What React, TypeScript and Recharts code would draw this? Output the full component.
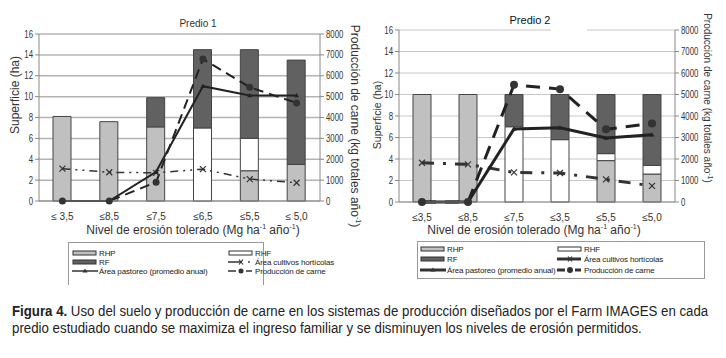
import React, { useLayoutEffect, useRef, useState } from "react"
import { ComposedChart, Bar, Line, XAxis, YAxis, CartesianGrid } from "recharts"

const categories1 = ["≤ 3,5", "≤8,5", "≤7,5", "≤6,5", "≤5,5", "≤ 5,0"]
const rhp1 = [8.1, 7.6, 7.1, 0, 2.9, 3.5]
const rhf1 = [0, 0, 0, 7.0, 3.1, 0]
const rf1 = [0, 0, 2.8, 7.5, 8.5, 10.0]
const horticolas1 = [3.1, 2.75, 2.7, 3.05, 2.1, 1.75]
const pastoreo1 = [0, 0, 2.8, 11.0, 10.1, 10.1]
const carne1 = [0, 0, 900, 6800, 5450, 4700]

const categories2 = ["≤3,5", "≤8,5", "≤7,5", "≤3,5", "≤5,5", "≤5,0"]
const rhp2 = [10, 10, 0, 0, 3.85, 2.6]
const rhf2 = [0, 0, 7.0, 5.8, 0.65, 0.8]
const rf2 = [0, 0, 3.0, 4.2, 5.5, 6.6]
const horticolas2 = [3.65, 3.5, 2.75, 2.7, 2.1, 1.5]
const pastoreo2 = [0, 0, 6.8, 6.9, 5.95, 6.25]
const carne2 = [0, 0, 5450, 5250, 3380, 3650]

const leftTicks = [0, 2, 4, 6, 8, 10, 12, 14, 16]
const rightTicks = [0, 1000, 2000, 3000, 4000, 5000, 6000, 7000, 8000]
const edgeTicks = [1, 2, 3, 4, 5]

const LIGHT = "#c0c0c0"
const DARK = "#616161"
const FONT = "'Liberation Sans', Arial, sans-serif"

function build(cats: string[], rhp: number[], rhf: number[], rf: number[], hort: number[], past: number[], carne: number[]) {
  return cats.map((c, i) => ({ label: c, rhp: rhp[i], rhf: rhf[i], rf: rf[i], hort: hort[i], past: past[i], carne: carne[i] }))
}

const data1 = build(categories1, rhp1, rhf1, rf1, horticolas1, pastoreo1, carne1)
const data2 = build(categories2, rhp2, rhf2, rf2, horticolas2, pastoreo2, carne2)

const XDot = (size: number, w: number) => (p: any) => {
  const { cx, cy, key } = p
  if (cx == null || cy == null) return null
  return (
    <path key={key} d={`M${cx - size},${cy - size}L${cx + size},${cy + size}M${cx - size},${cy + size}L${cx + size},${cy - size}`} stroke="#333" strokeWidth={w} fill="none" />
  )
}

const TriDot = (size: number) => (p: any) => {
  const { cx, cy, key } = p
  if (cx == null || cy == null) return null
  return <path key={key} d={`M${cx},${cy - size}L${cx + size},${cy + size * 0.7}L${cx - size},${cy + size * 0.7}Z`} fill="#222" />
}

const CircleDot = (r: number) => (p: any) => {
  const { cx, cy, key } = p
  if (cx == null || cy == null) return null
  return <circle key={key} cx={cx} cy={cy} r={r} fill="#333" />
}

// narrow digits, like the Arial Narrow ticks of the original
const CondTick = (props: any) => {
  const { x, y, payload, textAnchor } = props
  return (
    <text transform={`translate(${x},${y}) scale(0.78,1)`} textAnchor={textAnchor} dy="0.35em" fontSize={10} fill="#333" fontFamily={FONT}>
      {payload.value}
    </text>
  )
}

const tick = { fontSize: 10, fill: "#333", fontFamily: FONT }

interface PanelProps {
  data: any[]
  leftW: number
  rightW: number
  top: number
  xH: number
  grid: string
  thick: boolean
}

function Panel({ data, leftW, rightW, top, xH, grid, thick }: PanelProps) {
  const lw = thick ? 3 : 2
  return (
    <ComposedChart width={363} height={240} data={data} margin={{ top, right: 0, left: 0, bottom: 0 }}>
      <CartesianGrid vertical={false} stroke={grid} strokeWidth={thick ? 1 : 1.5} yAxisId="l" />
      <XAxis xAxisId="edge" type="number" domain={[0, 6]} ticks={edgeTicks} interval={0} height={0} tick={false} axisLine={false} tickLine={{ stroke: "#888" }} tickSize={4} />
      <XAxis dataKey="label" height={xH} tick={tick} tickLine={false} axisLine={{ stroke: "#888" }} tickMargin={6} interval={0} />
      <YAxis yAxisId="l" width={leftW} domain={[0, 16]} ticks={leftTicks} interval={0} tick={CondTick} axisLine={{ stroke: "#888" }} tickLine={{ stroke: "#888" }} tickSize={4} />
      <YAxis yAxisId="r" orientation="right" width={rightW} domain={[0, 8000]} ticks={rightTicks} interval={0} tick={CondTick} axisLine={{ stroke: "#888" }} tickLine={{ stroke: "#888" }} tickSize={4} />
      <Bar yAxisId="l" dataKey="rhp" stackId="a" fill={LIGHT} stroke="#444" barSize={18} isAnimationActive={false} />
      <Bar yAxisId="l" dataKey="rhf" stackId="a" fill="#fff" stroke="#444" barSize={18} isAnimationActive={false} />
      <Bar yAxisId="l" dataKey="rf" stackId="a" fill={DARK} stroke="#444" barSize={18} isAnimationActive={false} />
      <Line yAxisId="l" type="linear" dataKey="hort" stroke="#333" strokeWidth={thick ? 3 : 1.5} strokeDasharray={thick ? "12 9 3 9" : "8 5 2 5 2 5"} dot={XDot(3, 1.2)} isAnimationActive={false} />
      <Line yAxisId="l" type="linear" dataKey="past" stroke="#222" strokeWidth={lw} dot={TriDot(2.5)} isAnimationActive={false} />
      <Line yAxisId="r" type="linear" dataKey="carne" stroke="#222" strokeWidth={lw} strokeDasharray={thick ? "14 9" : "10 6"} dot={CircleDot(thick ? 4 : 3.5)} isAnimationActive={false} />
    </ComposedChart>
  )
}

function Swatch({ kind, thick }: { kind: string; thick: boolean }) {
  const w = thick ? 3 : 1.5
  return (
    <svg width={26} height={8} style={{ display: "block" }}>
      {kind === "rhp" && <rect x={1} y={2} width={23} height={4} fill={LIGHT} stroke="#333" />}
      {kind === "rhf" && <rect x={1} y={2} width={23} height={4} fill="#fff" stroke="#333" />}
      {kind === "rf" && <rect x={1} y={2} width={23} height={4} fill={DARK} stroke="#333" />}
      {kind === "hort" && (
        <g>
          <line x1={0} y1={4} x2={thick ? 24 : 14} y2={4} stroke="#333" strokeWidth={w} />
          <path d="M11,1.5L15,6.5M11,6.5L15,1.5" stroke="#333" strokeWidth={1.2} />
          {!thick && <circle cx={21} cy={4} r={0.9} fill="#333" />}
        </g>
      )}
      {kind === "past" && (
        <g>
          <line x1={0} y1={4} x2={26} y2={4} stroke="#333" strokeWidth={w} />
          <path d="M13,1.5L15.5,5.5L10.5,5.5Z" fill="#333" />
        </g>
      )}
      {kind === "carne" && (
        <g>
          <line x1={0} y1={4} x2={8} y2={4} stroke="#333" strokeWidth={w} />
          <circle cx={13} cy={4} r={thick ? 3 : 2.5} fill="#333" />
          <line x1={18} y1={4} x2={24} y2={4} stroke="#333" strokeWidth={w} />
        </g>
      )}
    </svg>
  )
}

function LegendItem({ x, y, kind, text, thick }: { x: number; y: number; kind: string; text: string; thick: boolean }) {
  return (
    <div style={{ position: "absolute", left: x, top: y, display: "flex", alignItems: "center", height: 10, fontSize: 8, letterSpacing: -0.15, whiteSpace: "nowrap", color: "#222" }}>
      <Swatch kind={kind} thick={thick} />
      <span style={{ marginLeft: 1 }}>{text}</span>
    </div>
  )
}

// squeeze a single line of text to a target width
function FitLine({ x, y, width, children }: { x: number; y: number; width: number; children: React.ReactNode }) {
  const ref = useRef<HTMLDivElement>(null)
  const [s, setS] = useState(1)
  useLayoutEffect(() => {
    if (ref.current) {
      const w = ref.current.scrollWidth
      if (w > 0) setS(width / w)
    }
  }, [width])
  return (
    <div
      ref={ref}
      style={{ position: "absolute", left: x, top: y, whiteSpace: "nowrap", fontSize: 14, lineHeight: "16px", color: "#222", transform: `scaleX(${s})`, transformOrigin: "0 0" }}
    >
      {children}
    </div>
  )
}

const legendNames = {
  rhp: "RHP",
  rhf: "RHF",
  rf: "RF",
  hort: "Área cultivos hortícolas",
  past: "Área pastoreo (promedio anual)",
  carne: "Producción de carne",
}

const sup = { fontSize: 7, verticalAlign: "super" as const, lineHeight: 0 }

export default function App() {
  return (
    <div style={{ position: "absolute", left: 0, top: 0, width: 726, height: 358, background: "#fff", fontFamily: FONT, color: "#333", overflow: "hidden" }}>
      <div style={{ position: "absolute", left: 0, top: 0 }}>
        <Panel data={data1} leftW={39} rightW={43} top={34} xH={39} grid="#b4b4b4" thick={false} />
      </div>
      <div style={{ position: "absolute", left: 363, top: 0 }}>
        <Panel data={data2} leftW={36} rightW={51} top={30} xH={38} grid="#c8c8c8" thick={true} />
      </div>
      <div style={{ position: "absolute", left: 551, top: 28, width: 36, height: 4, background: "#fff" }} />

      <div style={{ position: "absolute", left: 198, top: 23, transform: "translate(-50%,-50%)", fontSize: 10 }}>Predio 1</div>
      <div style={{ position: "absolute", left: 530, top: 20, transform: "translate(-50%,-50%)", fontSize: 11, color: "#111" }}>Predio 2</div>

      <div style={{ position: "absolute", left: 15, top: 95, transform: "translate(-50%,-50%) rotate(-90deg)", fontSize: 12, whiteSpace: "nowrap" }}>Superficie (ha)</div>
      <div style={{ position: "absolute", left: 377, top: 115, transform: "translate(-50%,-50%) rotate(-90deg)", fontSize: 10.5, whiteSpace: "nowrap" }}>Superficie (ha)</div>
      <div style={{ position: "absolute", left: 355, top: 126, transform: "translate(-50%,-50%) rotate(90deg)", fontSize: 12, whiteSpace: "nowrap" }}>
        Producción de carne (kg totales año<span style={sup}>-1</span>)
      </div>
      <div style={{ position: "absolute", left: 707, top: 98, transform: "translate(-50%,-50%) rotate(90deg)", fontSize: 10, whiteSpace: "nowrap" }}>
        Producción de carne (kg totales año<span style={sup}>-1</span>)
      </div>
      <div style={{ position: "absolute", left: 193, top: 230, transform: "translate(-50%,-50%)", fontSize: 12, whiteSpace: "nowrap" }}>
        Nivel de erosión tolerado (Mg ha<span style={sup}>-1</span> año<span style={sup}>-1</span>)
      </div>
      <div style={{ position: "absolute", left: 534, top: 230, transform: "translate(-50%,-50%)", fontSize: 12, whiteSpace: "nowrap" }}>
        Nivel de erosión tolerado (Mg ha<span style={sup}>-1</span> año<span style={sup}>-1</span>)
      </div>

      <div style={{ position: "absolute", left: 68, top: 242, width: 194, height: 42, borderTop: "1px solid #999", borderLeft: "1px solid #999", borderRight: "1px solid #999" }} />
      <LegendItem x={72} y={248} kind="rhp" text={legendNames.rhp} thick={false} />
      <LegendItem x={228} y={248} kind="rhf" text={legendNames.rhf} thick={false} />
      <LegendItem x={72} y={257} kind="rf" text={legendNames.rf} thick={false} />
      <LegendItem x={228} y={257} kind="hort" text={legendNames.hort} thick={false} />
      <LegendItem x={72} y={266} kind="past" text={legendNames.past} thick={false} />
      <LegendItem x={228} y={266} kind="carne" text={legendNames.carne} thick={false} />

      <div style={{ position: "absolute", left: 417, top: 241, width: 286, height: 36, border: "1px solid #999" }} />
      <LegendItem x={420} y={244} kind="rhp" text={legendNames.rhp} thick={true} />
      <LegendItem x={557} y={244} kind="rhf" text={legendNames.rhf} thick={true} />
      <LegendItem x={420} y={254} kind="rf" text={legendNames.rf} thick={true} />
      <LegendItem x={557} y={254} kind="hort" text={legendNames.hort} thick={true} />
      <LegendItem x={420} y={265} kind="past" text={legendNames.past} thick={true} />
      <LegendItem x={557} y={265} kind="carne" text={legendNames.carne} thick={true} />

      <FitLine x={12} y={303} width={696}>
        <b>Figura 4.</b> Uso del suelo y producción de carne en los sistemas de producción diseñados por el Farm IMAGES en cada
      </FitLine>
      <FitLine x={12} y={320} width={630}>
        predio estudiado cuando se maximiza el ingreso familiar y se disminuyen los niveles de erosión permitidos.
      </FitLine>
    </div>
  )
}
